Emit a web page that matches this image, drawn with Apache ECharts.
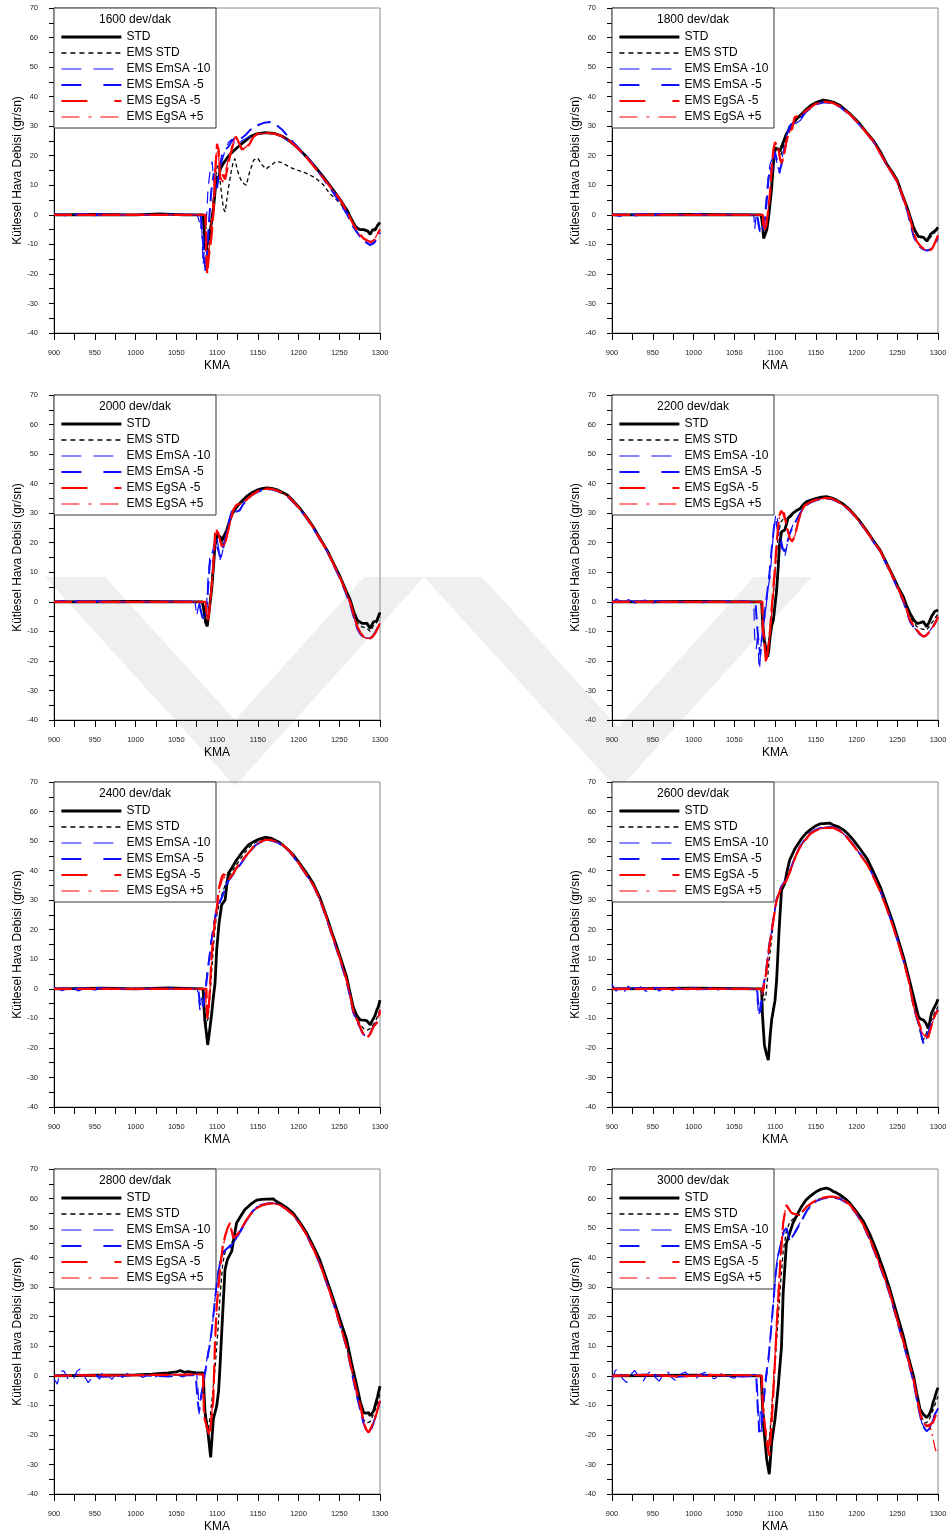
<!DOCTYPE html>
<html>
<head>
<meta charset="utf-8">
<script src="https://cdn.jsdelivr.net/npm/echarts@6/dist/echarts.min.js"></script>
<style>
html,body{margin:0;padding:0;background:#fff;}
#chart{width:950px;height:1539px;}
</style>
</head>
<body>
<div id="chart"></div>
<script>
// ---------- labels ----------
const seriesNames = ['STD', 'EMS STD', 'EMS EmSA -10', 'EMS EmSA -5', 'EMS EgSA -5', 'EMS EgSA +5'];
const panelTitles = ['1600 dev/dak', '1800 dev/dak', '2000 dev/dak', '2200 dev/dak', '2400 dev/dak', '2600 dev/dak', '2800 dev/dak', '3000 dev/dak'];
const xAxisName = 'KMA';
const yAxisName = 'Kütlesel Hava Debisi (gr/sn)';
const xRange = [900, 1300, 50];
const yRange = [-40, 70, 10];

// ---------- 1600 dev/dak ----------
const STD_1600 = [[900,0],[950,0.1],[1000,0],[1030,0.3],[1060,0],[1083,0],[1085,-8],[1086,-12],[1088,-10],[1090,-8],[1093,-3],[1096,3],[1098,9],[1100,13],[1102,12],[1104,15.5],[1108,17.5],[1112,19],[1116,20.5],[1120,21.5],[1125,22.8],[1130,24],[1136,25.3],[1140,26.3],[1145,27],[1150,27.5],[1160,27.8],[1170,27.6],[1180,26.6],[1190,24.8],[1200,22.4],[1210,19.6],[1220,16.4],[1230,13],[1240,9.4],[1250,5.6],[1260,1.4],[1265,-1.5],[1270,-4],[1275,-5],[1280,-5],[1285,-5.5],[1288,-6.6],[1291,-5],[1294,-5.2],[1297,-3.6],[1300,-2.6]];
const EMSSTD_1600 = [[900,0],[1085,0],[1087,-6],[1089,-14],[1091,-10],[1094,0],[1097,10],[1100,16],[1102,17],[1104,11],[1106,6],[1108,2],[1110,1],[1112,0.5],[1114,9],[1117,14],[1120,18],[1122,19],[1125,15],[1129,12],[1133,10.5],[1136,10],[1140,14.5],[1145,18.5],[1150,19.2],[1155,17],[1160,15.5],[1165,16.5],[1172,18],[1178,17.8],[1185,16.8],[1192,15.8],[1200,15],[1210,14],[1220,12.6],[1230,10.3],[1238,7.3],[1245,5.5],[1251,3.9],[1258,1.5],[1263,-1],[1268,-3],[1272,-4.5],[1280,-5],[1285,-5.5],[1288,-6.5],[1292,-5],[1296,-4],[1300,-2.8]];
const EmSA10_1600 = [[900,0.3],[915,-0.4],[930,0.3],[950,-0.3],[970,0.2],[990,-0.2],[1010,0.2],[1030,-0.1],[1050,0.2],[1076,0],[1078,-2],[1080,-5],[1081,-1],[1082,-10],[1083,-17],[1085,-10],[1087,-2],[1089,9],[1092,16],[1094,18],[1096,12],[1098,8],[1100,10],[1103,13],[1106,18],[1110,22],[1114,24.5],[1118,25.5],[1122,24],[1126,23.5],[1130,25],[1140,26.5],[1150,27.4],[1160,27.6],[1170,27.4],[1180,26.4],[1190,24.6],[1200,22.2],[1210,19.5],[1220,16.2],[1230,12.8],[1240,9.2],[1250,5.2],[1260,0.6],[1265,-2.5],[1270,-5],[1275,-7],[1280,-8.5],[1285,-9.5],[1288,-10],[1292,-9.4],[1296,-7.8],[1300,-6]];
const EmSA5_1600 = [[900,0],[950,0.2],[1000,-0.1],[1050,0.1],[1080,0],[1082,-6],[1084,-14],[1086,-19],[1088,-12],[1090,-3],[1093,8],[1096,14],[1100,9],[1103,15],[1106,20],[1110,22],[1114,23],[1118,25],[1122,26],[1128,25.5],[1135,27],[1140,28.5],[1145,29.7],[1150,30.3],[1158,31.2],[1165,31.4],[1173,30.4],[1180,28.8],[1190,25.6],[1200,22.6],[1210,19.8],[1220,16.4],[1226,14],[1230,12.4],[1240,8.6],[1250,4.4],[1260,0],[1267,-4],[1275,-7.2],[1280,-8.8],[1288,-10.3],[1293,-9.5],[1296,-8],[1300,-6]];
const EgSAm5_1600 = [[900,0],[1086,0],[1087,-14],[1088,-20],[1090,-14],[1093,-8],[1096,2],[1098,15],[1100,24],[1102,22],[1104,12],[1106,14],[1110,12],[1113,16],[1116,20],[1120,24],[1123,26.5],[1126,25],[1130,22.5],[1135,22],[1140,24],[1145,26.5],[1150,27.5],[1160,27.7],[1170,27.5],[1180,26.6],[1190,24.8],[1200,22.3],[1210,19.4],[1220,16],[1230,12.6],[1240,9.2],[1250,5.6],[1260,1],[1265,-2],[1270,-4.5],[1275,-6.5],[1280,-8],[1285,-8.8],[1289,-9.2],[1293,-8.5],[1297,-6.5],[1300,-5]];
const EgSAp5_1600 = [[900,0],[1085,0],[1086,-6],[1087,-18],[1089,-16],[1092,-6],[1095,4],[1098,18],[1100,23],[1102,20],[1104,13],[1107,11],[1110,14],[1114,19],[1118,23],[1122,26],[1126,24.5],[1130,22],[1136,23],[1142,25.5],[1150,27.4],[1160,27.6],[1170,27.4],[1180,26.5],[1190,24.7],[1200,22.2],[1210,19.3],[1220,15.9],[1230,12.5],[1240,9],[1250,5.4],[1260,0.8],[1265,-2.2],[1270,-4.8],[1275,-6.8],[1280,-8.2],[1285,-9],[1289,-9.3],[1293,-8.4],[1297,-6.4],[1300,-5]];

// ---------- 1800 dev/dak ----------
const STD_1800 = [[900,0],[1000,0.1],[1083,0],[1085,-4],[1086,-8],[1088,-8.3],[1090,-5],[1092,-1],[1094,4],[1096,9.5],[1098,17],[1100,22],[1103,22.5],[1106,21.5],[1110,24.5],[1114,27.4],[1118,29.3],[1122,30.8],[1126,32.3],[1131,33.6],[1139,35.9],[1145,37.2],[1151,38.1],[1159,38.8],[1165,38.6],[1172,38.1],[1180,37],[1192,34.2],[1204,30.8],[1212,28],[1221,25],[1230,21],[1237,17.2],[1244,14.4],[1250,11.6],[1256,7],[1262,2.6],[1266,-0.8],[1270,-4.2],[1273,-6],[1276,-7.3],[1282,-7.6],[1284,-7.3],[1286.5,-8.9],[1289,-7.6],[1291,-6.5],[1294,-5.9],[1296,-5.6],[1298,-5],[1300,-4.2]];
const EMSSTD_1800 = [[900,0],[1085,0],[1087,-4],[1089,-6],[1091,-3],[1093,4],[1095,9],[1097,15],[1099,21],[1101,23],[1104,22],[1107,20],[1110,23],[1114,27],[1118,29.5],[1122,31],[1126,32.5],[1131,33.8],[1139,35.6],[1150,37.8],[1160,38.5],[1170,38.1],[1180,36.9],[1192,34.1],[1204,30.7],[1221,24.9],[1237,17.1],[1250,11.4],[1262,2.4],[1266,-1],[1270,-4.5],[1276,-7.5],[1282,-8],[1287,-9],[1291,-7.5],[1296,-6],[1300,-4.5]];
const EmSA10_1800 = [[900,0],[910,-0.5],[920,0.3],[930,-0.4],[940,0.4],[950,-0.3],[960,0.3],[970,-0.3],[980,0.2],[990,-0.2],[1000,0.3],[1010,0.5],[1020,-0.2],[1030,0.2],[1040,-0.2],[1050,0.2],[1060,0],[1074,0],[1075,-5],[1077,0],[1081,-5.5],[1084,-6.5],[1086,-2],[1088,2],[1090,8],[1092,13.9],[1094,17.2],[1096,17],[1098,20],[1100,21.8],[1102,18],[1104,15],[1106,14],[1108,18.4],[1112,24],[1115,28],[1118,30.8],[1122,30.5],[1126,31],[1131,31.9],[1139,35.2],[1150,37.5],[1160,38.2],[1170,37.9],[1180,36.6],[1192,33.9],[1204,30.5],[1221,24.8],[1237,17],[1250,11.2],[1262,1.8],[1266,-2.5],[1270,-7],[1274,-9.5],[1278,-10.8],[1282,-11.6],[1286,-12],[1290,-11.8],[1294,-11],[1297,-9.5],[1300,-8]];
const EmSA5_1800 = [[900,0],[950,0.2],[1000,-0.1],[1050,0.1],[1078,0],[1080,-3],[1082,-6],[1085,-6],[1087,-3],[1090,5],[1092,12],[1094,16],[1096,14],[1098,18],[1100,21],[1102,19],[1104,16],[1106,15],[1108,17],[1112,22],[1116,27.5],[1119,30.5],[1123,31],[1127,31.5],[1131,32.5],[1139,35.1],[1150,37.4],[1160,38.1],[1170,37.8],[1180,36.5],[1192,33.8],[1204,30.4],[1221,24.7],[1237,16.9],[1250,11.1],[1262,1.6],[1266,-2.8],[1270,-7.2],[1274,-9.6],[1278,-10.9],[1282,-11.7],[1286,-12.1],[1290,-11.8],[1294,-11],[1297,-9.4],[1300,-7.8]];
const EgSAm5_1800 = [[900,0],[1085,0],[1086,-2],[1087,-5.3],[1089,-4],[1092,2],[1094,8],[1096,16],[1098,22],[1100,24.6],[1102,24],[1104,22.8],[1106,19],[1108,17.5],[1111,20],[1114,25],[1118,28.5],[1121,29],[1124,33],[1128,33.5],[1132,34],[1139,35.4],[1150,37.6],[1160,38.3],[1170,38],[1180,36.7],[1192,34],[1204,30.6],[1221,24.8],[1237,17],[1250,11.3],[1262,2.2],[1266,-1.5],[1270,-6],[1274,-9],[1278,-10.4],[1282,-11.4],[1286,-12.1],[1290,-12],[1293,-11.4],[1296,-9.6],[1300,-7]];
const EgSAp5_1800 = [[900,0],[1084,0],[1085,-3],[1087,-5],[1090,-2],[1093,5],[1095,12],[1097,19],[1099,23.5],[1101,24.2],[1103,23],[1105,20.5],[1107,18],[1110,19],[1113,23],[1116,27],[1119,28.5],[1122,31],[1125,33],[1129,33.2],[1132,33.8],[1139,35.3],[1150,37.5],[1160,38.2],[1170,37.9],[1180,36.6],[1192,33.9],[1204,30.5],[1221,24.7],[1237,16.9],[1250,11.2],[1262,2],[1266,-1.8],[1270,-6.2],[1274,-9.2],[1278,-10.6],[1282,-11.5],[1286,-12.1],[1290,-11.9],[1293,-11.2],[1296,-9.4],[1300,-6.8]];

// ---------- 2000 dev/dak ----------
const STD_2000 = [[900,0],[1000,0.1],[1082,0],[1084,-3],[1086,-7],[1088,-8.3],[1090,-4],[1093.5,4.3],[1096,13],[1097.5,19],[1100,22.4],[1102,22.5],[1104,22],[1106,20.5],[1108,22],[1112,24.3],[1115,27],[1118,29.4],[1122,31.3],[1126,32.8],[1131,34.2],[1136,35.6],[1142,36.8],[1149,37.8],[1155,38.3],[1161,38.6],[1167,38.4],[1173,38],[1180,37.1],[1186,36.2],[1194,34],[1202,31.6],[1210,28.6],[1218,25.4],[1226,21.6],[1235,17.5],[1243,13],[1251,8.5],[1258,4],[1263.5,0.6],[1268,-3.5],[1272,-6.2],[1278,-7.3],[1284,-7.3],[1288,-9],[1290,-7.8],[1292,-6.8],[1294,-7.2],[1296,-6.5],[1298,-5],[1300,-3.6]];
const EMSSTD_2000 = [[900,0],[1084,0],[1086,-4],[1088,-7],[1090,-5],[1092,2],[1094,9],[1096,16],[1098,21],[1100,23],[1103,21],[1106,19],[1109,21],[1113,25],[1117,29],[1121,31],[1126,32.5],[1131,33.8],[1136,35.2],[1142,36.4],[1149,37.5],[1155,38.1],[1161,38.5],[1167,38.3],[1173,37.9],[1180,37],[1186,36.1],[1194,33.9],[1202,31.5],[1210,28.5],[1218,25.3],[1226,21.5],[1235,17.4],[1243,12.9],[1251,8.3],[1258,3.8],[1263.5,0.2],[1268,-4],[1272,-7.2],[1278,-8.5],[1284,-9],[1288,-10],[1292,-8],[1296,-7],[1300,-5]];
const EmSA10_2000 = [[900,0],[910,0.4],[920,-0.4],[930,0.3],[940,-0.3],[950,0.3],[960,-0.3],[970,0.2],[980,-0.3],[990,0.2],[1000,-0.2],[1010,0.3],[1020,-0.2],[1030,0.2],[1040,-0.2],[1050,0.2],[1060,0.2],[1073,0],[1074,-2],[1075,-4.9],[1077,-2],[1079,0],[1082,-5.5],[1085,-5.5],[1087,-2],[1089,8],[1091.6,16.4],[1094,16],[1096,17],[1099.6,22.4],[1102,18],[1103.7,14.2],[1106,16],[1108,18.7],[1112,24],[1115,28],[1118,31],[1122,31],[1126,30.5],[1131,32.5],[1136,34.5],[1142,36],[1149,37.2],[1155,37.9],[1161,38.2],[1167,38.1],[1173,37.7],[1180,36.8],[1186,35.9],[1194,33.7],[1202,31.3],[1210,28.3],[1218,25.1],[1226,21.3],[1235,17.2],[1243,12.6],[1251,7.9],[1258,3.2],[1263.5,-0.8],[1268,-5.2],[1272,-8.8],[1276,-10.8],[1280,-11.9],[1284,-12.3],[1288,-12.3],[1291,-11.6],[1294,-10.5],[1297,-9],[1300,-7.5]];
const EmSA5_2000 = [[900,0],[950,0.2],[1000,-0.1],[1050,0.1],[1078,0],[1080,-3],[1083,-6],[1086,-5],[1088,0],[1090,9],[1092,15],[1095,17],[1098,21],[1100,21.5],[1102,17],[1104,15],[1107,17.5],[1110,21],[1114,25.5],[1117,29.5],[1120,31],[1124,30.5],[1128,31],[1132,33],[1136,34.3],[1142,35.9],[1149,37.1],[1155,37.8],[1161,38.1],[1167,38],[1173,37.6],[1180,36.7],[1186,35.8],[1194,33.6],[1202,31.2],[1210,28.2],[1218,25],[1226,21.2],[1235,17.1],[1243,12.5],[1251,7.8],[1258,3],[1263.5,-1],[1268,-5.4],[1272,-9],[1276,-11],[1280,-12],[1284,-12.4],[1288,-12.3],[1291,-11.6],[1294,-10.4],[1297,-8.8],[1300,-7.4]];
const EgSAm5_2000 = [[900,0],[1086,0],[1087,-3],[1089,-6.2],[1091,-2],[1093,4],[1095,10],[1097,20],[1098,24.9],[1100,24.5],[1102,23],[1104,20.5],[1106,18.7],[1108,18.5],[1110,19.8],[1114,24.5],[1117,28],[1120,31.1],[1124,32.8],[1128,33.2],[1132,33.8],[1136,34.5],[1142,36],[1149,37.3],[1155,38],[1161,38.3],[1167,38.2],[1173,37.8],[1180,36.9],[1186,36],[1194,33.8],[1202,31.4],[1210,28.4],[1218,25.2],[1226,21.4],[1235,17.3],[1243,12.8],[1251,8.2],[1258,3.6],[1263.5,-0.2],[1268,-4.5],[1272,-8.3],[1276,-10.5],[1280,-11.8],[1284,-12.3],[1288,-12.4],[1291,-11.8],[1294,-10.7],[1297,-9],[1300,-7.3]];
const EgSAp5_2000 = [[900,0],[1085,0],[1086,-2],[1088,-5.5],[1090,-4],[1092,1],[1094,7],[1096,15],[1098,22],[1100,24],[1102,23.5],[1104,21],[1106,19.5],[1109,19],[1112,22],[1116,26.5],[1119,30],[1122,32],[1126,33],[1130,33.3],[1136,34.3],[1142,35.9],[1149,37.2],[1155,37.9],[1161,38.2],[1167,38.1],[1173,37.7],[1180,36.8],[1186,35.9],[1194,33.7],[1202,31.3],[1210,28.3],[1218,25.1],[1226,21.3],[1235,17.2],[1243,12.7],[1251,8],[1258,3.4],[1263.5,-0.4],[1268,-4.8],[1272,-8.5],[1276,-10.6],[1280,-11.9],[1284,-12.4],[1288,-12.4],[1291,-11.7],[1294,-10.6],[1297,-8.9],[1300,-7.2]];

// ---------- 2200 dev/dak ----------
const STD_2200 = [[900,0],[1000,0.1],[1083.6,0],[1085,-8],[1087,-13],[1089,-16.3],[1091,-18.6],[1092.5,-16],[1094,-11.8],[1096,-8],[1098,-6.2],[1100,-6],[1102,4],[1104,12],[1105.3,18.7],[1108,23.7],[1112,24.3],[1116,28.3],[1122,30],[1126,30.8],[1131,31.6],[1135,33],[1139,33.9],[1145,34.5],[1151,35],[1157,35.4],[1163,35.6],[1169,35.2],[1175,34.5],[1184,33],[1192,31.1],[1202,28],[1212,24.3],[1220,21],[1229,17.5],[1237,13],[1245,8.5],[1251,5],[1257.5,1.7],[1261,-1],[1265.7,-3.9],[1270,-6],[1274,-7.3],[1278,-7.1],[1282,-6.7],[1286,-8.4],[1289,-7],[1292,-5],[1294,-5.5],[1296,-3.3],[1300,-2.8]];
const EMSSTD_2200 = [[900,0],[1084,0],[1085,-8],[1087,-14],[1089,-19],[1091,-17],[1093,-12],[1095,-6],[1097,0],[1099,6],[1101,14],[1103,20],[1105,24],[1107,27],[1110,28],[1113,27],[1116,27.5],[1120,29],[1125,30.5],[1131,31.8],[1139,33.7],[1145,34.3],[1151,34.8],[1157,35.2],[1163,35.4],[1169,35.1],[1175,34.4],[1184,32.9],[1192,31],[1202,27.9],[1212,24.2],[1220,20.9],[1229,17.4],[1237,12.9],[1245,8.3],[1251,4.8],[1257.5,1.2],[1262,-2],[1266,-5],[1270,-7],[1274,-8.4],[1278,-9],[1282,-9.3],[1286,-9.5],[1290,-8],[1294,-6.5],[1300,-4]];
const EmSA10_2200 = [[900,-1],[905,1],[910,0.3],[915,-0.8],[920,0.8],[930,-0.6],[940,0.6],[950,-0.4],[960,0.5],[970,-0.3],[980,0.4],[990,-0.3],[1000,0.3],[1010,-0.3],[1020,0.3],[1030,-0.2],[1040,0.3],[1050,-0.2],[1060,0.3],[1070,0],[1074,0],[1075,-12],[1077,-16],[1079,-10],[1080,-20],[1081,-23],[1083,-14],[1086,-8],[1089,-2],[1091,4],[1094,8.5],[1096,16],[1098,23],[1101,30],[1104,26.6],[1107,22],[1110,18],[1112,15.3],[1114,18],[1116,21],[1119,24],[1122,26],[1126,28],[1131,30.2],[1136,32.5],[1140,33.1],[1145,33.9],[1151,34.5],[1157,34.9],[1163,35.1],[1169,34.9],[1175,34.2],[1184,32.7],[1192,30.8],[1202,27.7],[1212,24],[1220,20.7],[1229,17.2],[1237,12.6],[1245,8],[1251,4.3],[1257.5,0.2],[1262,-3.5],[1265.7,-6.6],[1270,-8.4],[1274,-9.8],[1278,-11],[1282,-11.6],[1285,-11.3],[1288,-10.5],[1291,-9.4],[1294,-8.2],[1297,-6.8],[1300,-5]];
const EmSA5_2200 = [[900,0],[950,0.2],[1000,-0.1],[1050,0.1],[1076,0],[1078,-8],[1080,-14],[1082,-18],[1084,-12],[1087,-5],[1090,2],[1093,9],[1096,18],[1099,26],[1101,28],[1103,25],[1106,21],[1109,18],[1112,17],[1115,20],[1118,23],[1122,25.5],[1126,27.5],[1131,30],[1136,32.3],[1140,33],[1145,33.8],[1151,34.4],[1157,34.8],[1163,35],[1169,34.8],[1175,34.1],[1184,32.6],[1192,30.7],[1202,27.6],[1212,23.9],[1220,20.6],[1229,17.1],[1237,12.5],[1245,7.9],[1251,4.2],[1257.5,0.1],[1262,-3.6],[1265.7,-6.7],[1270,-8.5],[1274,-9.9],[1278,-11.1],[1282,-11.7],[1285,-11.4],[1288,-10.6],[1291,-9.5],[1294,-8.3],[1297,-6.9],[1300,-5.1]];
const EgSAm5_2200 = [[900,0],[1084.5,0],[1085,-9.5],[1087,-14],[1089,-20.8],[1091,-17],[1094,-9.5],[1096,-2],[1098,4.5],[1100,12],[1102,19.8],[1105,28.8],[1107,30.5],[1109.4,31.1],[1111,30],[1114,26],[1118,21.5],[1121,20.5],[1124,22],[1128,26.6],[1132.7,31],[1136,32.5],[1140,33.2],[1145,34],[1151,34.6],[1157,35],[1163,35.2],[1169,35],[1175,34.3],[1184,32.8],[1192,30.9],[1202,27.8],[1212,24.1],[1220,20.8],[1229,17.3],[1237,12.8],[1245,8.2],[1251,4.6],[1257.5,0.6],[1262,-3],[1265.7,-6.2],[1270,-8],[1274,-9.5],[1278,-10.8],[1282,-11.8],[1285,-11.5],[1288,-10.7],[1291,-9.6],[1294,-8.4],[1297,-7],[1300,-5]];
const EgSAp5_2200 = [[900,0],[1084,0],[1085,-7],[1087,-13],[1089,-19],[1091,-18],[1094,-11],[1096,-4],[1098,3],[1100,10],[1102,18],[1104,26],[1106,29.5],[1108,31],[1110,30.5],[1113,27],[1117,22.5],[1120,20],[1123,21],[1127,25],[1131,29.5],[1136,32.3],[1140,33.1],[1145,33.9],[1151,34.5],[1157,34.9],[1163,35.1],[1169,34.9],[1175,34.2],[1184,32.7],[1192,30.8],[1202,27.7],[1212,24],[1220,20.7],[1229,17.2],[1237,12.7],[1245,8.1],[1251,4.5],[1257.5,0.5],[1262,-3.2],[1265.7,-6.4],[1270,-8.2],[1274,-9.7],[1278,-10.9],[1282,-11.7],[1285,-11.4],[1288,-10.6],[1291,-9.5],[1294,-8.3],[1297,-6.9],[1300,-5]];

// ---------- 2400 dev/dak ----------
const STD_2400 = [[900,0],[960,0.2],[1000,0],[1040,0.3],[1083,0],[1084,-6],[1085,-10.5],[1087,-15],[1088.6,-19],[1091,-14],[1093.5,-8.3],[1095.5,-3],[1097.6,1.9],[1099.6,13.1],[1102.5,22.2],[1105.7,28.4],[1110,30.1],[1112,35],[1114,39.1],[1118,40.8],[1124,43.6],[1130,45.9],[1138.6,48.7],[1145,49.8],[1151,50.6],[1159,51.3],[1167,50.9],[1175,49.8],[1181,48.6],[1187.6,47],[1194,45.2],[1200,43],[1209,39.5],[1218,35.7],[1226,31],[1234.6,24.4],[1241,19],[1247,14.3],[1253,9.3],[1259,4.1],[1263,-1],[1267,-6],[1271,-8.8],[1275.6,-10.5],[1280,-10.6],[1283.7,-10.8],[1286,-11.5],[1288,-12.2],[1290,-11],[1292,-10],[1294,-9],[1296,-7.2],[1298,-6],[1300,-3.8]];
const EMSSTD_2400 = [[900,0],[1084,0],[1085,-8],[1087,-12],[1089,-10],[1091,-4],[1093,4],[1095,12],[1097,19],[1099,24],[1102,28],[1105,31],[1108,33.5],[1111,36],[1114,38],[1118,39.5],[1124,42],[1130,44.5],[1138,47.5],[1145,49.2],[1151,50.1],[1159,50.7],[1167,50.5],[1175,49.6],[1183.6,48],[1190,46.2],[1200,42.7],[1209,39.1],[1218,35.3],[1226,30.6],[1234.6,24.1],[1241,18.6],[1247,13.8],[1253,8.7],[1259,3.3],[1263,-1.2],[1267,-6.5],[1271,-9.5],[1275.6,-12],[1280,-13.5],[1284,-14],[1288,-13.5],[1292,-12],[1296,-10],[1300,-7]];
const EmSA10_2400 = [[900,0.5],[910,-0.6],[920,0.5],[930,-0.7],[940,0.4],[950,-0.5],[960,0.4],[970,-0.3],[980,0.3],[990,-0.4],[1000,0.3],[1010,-0.3],[1020,0.3],[1030,-0.2],[1040,0.3],[1050,-0.2],[1060,0.2],[1070,0],[1076,0],[1079,-7.2],[1081,-3],[1083,-7],[1085,-2],[1088,6],[1090,10],[1093.6,17.7],[1096,22],[1099.6,27.8],[1104,30],[1107,32],[1110,34.6],[1114,37],[1118,38.5],[1122,40],[1126,41.3],[1130,42.8],[1134.5,44.7],[1140,46.3],[1146.7,48.6],[1152,49.5],[1159,50.3],[1167,50.3],[1175,49.5],[1183.6,48],[1190,46.2],[1200,42.5],[1209,38.9],[1218,35.1],[1226,30.3],[1234.6,23.7],[1241,18.2],[1247,13.2],[1253,8],[1259,2.5],[1263,-2.2],[1267,-7.8],[1271,-10.5],[1275.6,-13],[1278,-14.6],[1281.6,-16],[1285.7,-15.8],[1289,-14.5],[1292,-12.6],[1296,-11.3],[1300,-7.5]];
const EmSA5_2400 = [[900,0],[950,0.2],[1000,-0.1],[1050,0.1],[1077,0],[1079,-5],[1082,-7],[1085,-3],[1087,2],[1090,9],[1093,16],[1096,21],[1099,26],[1103,29],[1107,31.5],[1110,33.8],[1114,36.5],[1118,38],[1122,39.6],[1126,41],[1130,42.6],[1134.5,44.5],[1140,46.2],[1146.7,48.5],[1152,49.4],[1159,50.2],[1167,50.2],[1175,49.4],[1183.6,47.9],[1190,46.1],[1200,42.4],[1209,38.8],[1218,35],[1226,30.2],[1234.6,23.6],[1241,18.1],[1247,13.1],[1253,7.9],[1259,2.4],[1263,-2.3],[1267,-7.9],[1271,-10.6],[1275.6,-13.1],[1278,-14.7],[1281.6,-16.1],[1285.7,-15.9],[1289,-14.6],[1292,-12.7],[1296,-11.4],[1300,-7.6]];
const EgSAm5_2400 = [[900,0],[1087,0],[1088,-10],[1090,-6],[1091.6,2],[1093.6,12],[1095.5,18],[1097.6,23.3],[1100,28],[1102,33.4],[1104,36],[1106,38],[1108,38.8],[1110,39],[1112,38],[1114,36.8],[1117,38],[1120,39],[1124,41],[1128,42.5],[1134.5,44.7],[1140,46.5],[1146.7,48.7],[1152,49.6],[1159,50.4],[1167,50.4],[1175,49.6],[1183.6,48.1],[1190,46.3],[1200,42.6],[1209,39],[1218,35.2],[1226,30.5],[1234.6,24],[1241,18.5],[1247,13.6],[1253,8.5],[1259,3],[1263,-1.5],[1267,-7.2],[1271,-10],[1275.6,-12.8],[1278,-14.5],[1281.6,-16.2],[1285.7,-16.2],[1289,-14.8],[1292,-12.8],[1296,-11.5],[1298,-10.5],[1300,-7.2]];
const EgSAp5_2400 = [[900,0],[1086,0],[1087,-8],[1089,-9],[1091,-2],[1093,8],[1095,15],[1097,21],[1099.6,26],[1102,31],[1104,34.5],[1106,36.5],[1108,37.8],[1110,38.3],[1113,37],[1116,37.5],[1120,38.8],[1124,40.8],[1128,42.4],[1134.5,44.6],[1140,46.4],[1146.7,48.6],[1152,49.5],[1159,50.3],[1167,50.3],[1175,49.5],[1183.6,48],[1190,46.2],[1200,42.5],[1209,38.9],[1218,35.1],[1226,30.4],[1234.6,23.9],[1241,18.4],[1247,13.5],[1253,8.4],[1259,2.8],[1263,-1.7],[1267,-7.4],[1271,-10.2],[1275.6,-13],[1278,-14.6],[1281.6,-16.1],[1285.7,-16],[1289,-14.6],[1292,-12.7],[1296,-11.4],[1300,-7.4]];

// ---------- 2600 dev/dak ----------
const STD_2600 = [[900,0],[1000,0.2],[1083.6,0],[1084.5,-8.3],[1087,-19],[1089.5,-22],[1091.8,-24.1],[1094,-16],[1095.9,-10.5],[1098,-7.2],[1100,-4],[1102,3],[1105,19.9],[1108,33.4],[1112,35.7],[1115,40],[1118,43.6],[1124.6,47.5],[1132.7,50.9],[1138,52.6],[1143,53.8],[1149,55],[1155,55.8],[1163,56],[1167,56.1],[1171.6,55.4],[1178,54.8],[1184,53.8],[1190,52.3],[1196,50.4],[1204,47.5],[1212.6,44.2],[1220,40],[1229,34.6],[1237,28.5],[1245,22.2],[1251,16.8],[1257.5,10.9],[1264,4],[1270,-2.7],[1273,-6],[1276,-9.4],[1279,-10.3],[1282,-10.5],[1285,-11.5],[1288,-13.4],[1290,-11],[1292,-8.3],[1295,-6.5],[1298,-4.9],[1300,-3.5]];
const EMSSTD_2600 = [[900,0],[1085,0],[1087,-4],[1089,-2],[1091,4],[1093,10],[1095,15],[1097,20],[1099,25],[1101,29],[1104,32],[1107,34],[1110,35.2],[1114,36.5],[1118,39.2],[1122,42.3],[1126,45.3],[1130.7,48],[1137,50.4],[1143,52.5],[1149,53.5],[1155,54.2],[1163,54.6],[1171.6,54.6],[1180,53.4],[1188,51.4],[1196,48.7],[1204,45.7],[1212.6,42.4],[1220,38.5],[1229,33.1],[1237,27.3],[1245,21.1],[1251,15.7],[1257.5,9.7],[1264,2.8],[1270,-6],[1274,-10],[1278,-14],[1281,-18],[1284,-16],[1288,-13.5],[1292,-10.5],[1296,-8],[1300,-6]];
const EmSA10_2600 = [[900,1.5],[905,-0.8],[910,0.6],[915,-1],[920,0.9],[928,-1.1],[935,0.7],[942,-0.9],[950,0.8],[958,-0.7],[966,0.6],[974,-0.6],[982,0.5],[990,-0.5],[1000,0.5],[1010,-0.4],[1020,0.4],[1030,-0.4],[1040,0.3],[1050,-0.3],[1060,0.3],[1070,0],[1077,0],[1080,-9.4],[1082,-5],[1084,-2],[1086,2],[1089,5.2],[1091,10],[1093,14.3],[1095.5,19],[1098,23.3],[1100,27],[1102,30.1],[1105,32.5],[1108,34.6],[1111,35.8],[1114,36.8],[1118,39.5],[1122,42.5],[1126,45.5],[1130.7,48.1],[1137,50.5],[1143,52.6],[1149,53.6],[1155,54.3],[1163,54.7],[1171.6,54.7],[1180,53.5],[1188,51.5],[1196,48.8],[1204,45.8],[1212.6,42.5],[1220,38.6],[1229,33.2],[1237,27.4],[1245,21.2],[1251,15.8],[1257.5,9.8],[1264,3],[1270,-6],[1273,-9],[1276,-11.7],[1279,-15],[1282,-18.5],[1285,-17.5],[1288,-15],[1291,-12.5],[1294,-10.5],[1297,-8.5],[1300,-7.2]];
const EmSA5_2600 = [[900,0],[950,0.3],[1000,-0.2],[1050,0.1],[1078,0],[1080,-7],[1082,-8],[1084,-3],[1087,3],[1089,6],[1091,10.5],[1093,15],[1096,20],[1098,23.5],[1100,27.2],[1102,30.3],[1105,32.7],[1108,34.8],[1111,36],[1114,37],[1118,39.7],[1122,42.7],[1126,45.6],[1130.7,48.2],[1137,50.6],[1143,52.7],[1149,53.7],[1155,54.4],[1163,54.8],[1171.6,54.7],[1180,53.5],[1188,51.5],[1196,48.8],[1204,45.8],[1212.6,42.5],[1220,38.6],[1229,33.2],[1237,27.4],[1245,21.2],[1251,15.8],[1257.5,9.8],[1264,3],[1270,-6],[1273,-9],[1276,-11.7],[1279,-15],[1282,-18.4],[1285,-17.3],[1288,-14.8],[1291,-12.4],[1294,-10.4],[1297,-8.4],[1300,-7]];
const EgSAm5_2600 = [[900,0],[1084,0],[1085,-1],[1087,2],[1089,5],[1091,9.8],[1093,14.1],[1095.5,18.8],[1098,23.1],[1100,26.8],[1102,29.9],[1105,32.3],[1108,34.4],[1111,35.6],[1114,36.6],[1118,39.3],[1122,42.3],[1126,45.3],[1130.7,47.9],[1137,50.3],[1143,52.4],[1149,53.4],[1155,54.1],[1163,54.5],[1171.6,54.5],[1180,53.3],[1188,51.3],[1196,48.6],[1204,45.6],[1212.6,42.3],[1220,38.4],[1229,33],[1237,27.2],[1245,21],[1251,15.6],[1257.5,9.6],[1264,2.8],[1270,-5.5],[1273,-8.5],[1276,-11],[1279,-13.5],[1282,-15],[1285,-16],[1288,-16.5],[1291,-13.5],[1294,-10.5],[1297,-8.5],[1300,-7.2]];
const EgSAp5_2600 = [[900,0],[1083,0],[1084,-2],[1086,-0.5],[1088,3.5],[1090,8],[1092,12.5],[1094.5,17],[1097,21.5],[1099,25.5],[1101,28.8],[1104,31.8],[1107,34],[1110,35.4],[1114,36.8],[1118,39.4],[1122,42.4],[1126,45.4],[1130.7,48],[1137,50.4],[1143,52.5],[1149,53.5],[1155,54.2],[1163,54.6],[1171.6,54.6],[1180,53.4],[1188,51.4],[1196,48.7],[1204,45.7],[1212.6,42.4],[1220,38.5],[1229,33.1],[1237,27.3],[1245,21.1],[1251,15.7],[1257.5,9.7],[1264,2.9],[1270,-5.8],[1273,-8.8],[1276,-11.3],[1279,-14],[1282,-15.5],[1285,-16.3],[1288,-16.8],[1291,-13.8],[1294,-10.8],[1297,-8.6],[1300,-7.3]];

// ---------- 2800 dev/dak ----------
const STD_2800 = [[900,0],[950,0.2],[1000,0.3],[1020,0.6],[1040,1],[1050,1.3],[1055,1.8],[1060,1.2],[1065,1.4],[1070,1.2],[1075,1],[1083,1],[1085.3,-12.5],[1089,-19.3],[1092.2,-27.6],[1095.5,-14.7],[1099.6,-10.2],[1102,-5],[1103.7,3.3],[1107,21.3],[1109.8,35.9],[1112.7,39.3],[1118,42.1],[1121,47],[1124,51.7],[1129,54],[1134,56.2],[1141,58],[1148.7,59.5],[1155,59.7],[1161,59.8],[1169,59.9],[1173,59],[1177,58.4],[1185,57],[1193.6,55],[1202,51.8],[1210,48.3],[1218,44],[1226,39.3],[1234,33],[1243,25.8],[1251,19],[1259,12.3],[1265,4.5],[1271.6,-3.5],[1276,-9],[1280,-12.5],[1283,-12.6],[1286,-12.5],[1288,-13.5],[1290,-14.1],[1292,-12],[1294,-10.2],[1297,-7],[1300,-3.5]];
const EMSSTD_2800 = [[900,0],[1000,0.2],[1083,0.5],[1085,-10],[1089,-19],[1092,-13],[1095,-5],[1098,4],[1101,15],[1104,28],[1107,38],[1110,42],[1114,43.5],[1118,45],[1122,47],[1128,49],[1136,52.5],[1142,55],[1148.7,56.8],[1155,57.8],[1162,58.3],[1169,58.5],[1177,58],[1185,56.5],[1193.6,54.6],[1202,51.4],[1210,47.8],[1218,43.3],[1226,38.3],[1234,32.1],[1243,24.8],[1251,17.5],[1259,10.1],[1263,5.1],[1267,0.1],[1271,-5],[1276,-10.5],[1280,-15],[1284,-16],[1288,-15.5],[1292,-13],[1296,-10],[1300,-6]];
const EmSA10_2800 = [[900,-1],[904,-2.8],[908,1.5],[912,1.7],[918,-1.5],[923,-1.7],[928,1.5],[932,2.3],[937,0],[942,-2.3],[947,-0.5],[950,0.6],[956,-1.1],[960,1.5],[966,0.5],[971,-1.2],[978,1.1],[984,-0.6],[990,0.8],[996,-0.5],[1003,0.5],[1009,-0.6],[1016,0.4],[1024,-0.4],[1032,0.5],[1040,-0.3],[1050,0.5],[1058,-0.4],[1066,0.7],[1072,0.3],[1075,1],[1077,-6],[1078,-13],[1080,-7],[1083,-2],[1086,3],[1089,8],[1093.5,15],[1097.5,25.8],[1101.6,35.9],[1104,39],[1107.7,42.1],[1112,43.5],[1116,43.2],[1120,45],[1126,47.2],[1131,49.8],[1136,52.2],[1142,55],[1148.7,57.2],[1155,57.9],[1162,58.3],[1169,58.4],[1177,57.9],[1185,56.4],[1193.6,54.4],[1202,51.2],[1210,47.6],[1218,43],[1226,38],[1234,31.8],[1243,24.4],[1251,17.1],[1259,9.6],[1263,4.5],[1267,-0.8],[1271,-6],[1276,-11.5],[1280,-16],[1283,-18],[1287,-19],[1290,-17.5],[1293,-15],[1296,-12.5],[1300,-8.5]];
const EmSA5_2800 = [[900,0],[930,0.4],[960,-0.3],[1000,0.2],[1040,-0.2],[1070,0.3],[1074,0],[1076,-8],[1078,-12],[1080,-8],[1083,-3],[1086,2],[1089,7],[1092,12],[1095,19],[1098,27],[1101,34],[1104,38.5],[1108,42],[1112,43],[1116,44],[1120,45.5],[1126,47.6],[1131,50],[1136,52.4],[1142,55.1],[1148.7,57.2],[1155,57.9],[1162,58.3],[1169,58.4],[1177,57.9],[1185,56.4],[1193.6,54.4],[1202,51.2],[1210,47.6],[1218,43],[1226,38],[1234,31.8],[1243,24.4],[1251,17.1],[1259,9.6],[1263,4.4],[1267,-1],[1271,-6.2],[1276,-11.8],[1280,-16.2],[1283,-18.2],[1287,-19.1],[1290,-17.6],[1293,-15.1],[1296,-12.6],[1300,-8.6]];
const EgSAm5_2800 = [[900,0],[940,0.2],[980,0.1],[1020,0.3],[1060,0.4],[1083,0.5],[1084,-13.6],[1087,-17],[1091,-20.3],[1093,-15],[1095.5,-8],[1097.5,11.2],[1099.6,23.5],[1103.7,35.9],[1107,43.8],[1110,47.5],[1113,50],[1116,51.7],[1118,49],[1120,46.6],[1124,47.5],[1128,48.9],[1132,50.8],[1136,52.8],[1142,55],[1148.7,56.7],[1155,57.7],[1162,58.2],[1169,58.4],[1177,57.9],[1185,56.4],[1193.6,54.5],[1202,51.3],[1210,47.7],[1218,43.2],[1226,38.2],[1234,32],[1243,24.7],[1251,17.4],[1259,10],[1263,5],[1267,0],[1271,-5],[1276,-10.2],[1280.8,-16.4],[1283,-18],[1286,-19.2],[1288,-18.6],[1290,-17],[1293,-15],[1296,-12.5],[1300,-8]];
const EgSAp5_2800 = [[900,0],[960,0.3],[1020,0.2],[1060,0.5],[1082,0.5],[1083,-8],[1086,-15],[1089,-19],[1092,-17],[1094.5,-10],[1096.5,2],[1098.5,16],[1101,28],[1104,37],[1107,43],[1110,47],[1113,49.5],[1115,51],[1117,50],[1120,47],[1124,47.8],[1128,49.2],[1132,51],[1136,52.9],[1142,55],[1148.7,56.7],[1155,57.7],[1162,58.2],[1169,58.3],[1177,57.8],[1185,56.3],[1193.6,54.4],[1202,51.2],[1210,47.6],[1218,43.1],[1226,38.1],[1234,31.9],[1243,24.6],[1251,17.3],[1259,9.9],[1263,4.9],[1267,-0.2],[1271,-5.3],[1276,-10.6],[1280.8,-16.8],[1283,-18.4],[1286,-19.4],[1288,-18.9],[1290,-17.2],[1293,-15.2],[1296,-12.8],[1300,-8.3]];

// ---------- 3000 dev/dak ----------
const STD_3000 = [[900,0],[1000,0.2],[1083,0],[1085.7,-15.8],[1089.8,-28.2],[1093,-33.3],[1095.9,-22.6],[1100,-14.7],[1104,-3.5],[1108,10],[1110,28],[1114,44.9],[1118,48.3],[1122,51.7],[1128,55],[1133,57.5],[1138,59.5],[1144,61],[1151,62.4],[1157,63.2],[1163,63.5],[1167,63.2],[1171.6,62.4],[1175,62],[1179.8,61.2],[1186,60],[1192,58.4],[1200,55.6],[1208.6,52.2],[1217,47.5],[1225,42.1],[1233,36],[1241,29.2],[1249,21.5],[1257.5,13.4],[1264,6],[1270,-0.1],[1274,-6],[1278,-11.3],[1282,-13],[1286,-14.1],[1289,-13.2],[1292,-11.3],[1294,-9],[1296,-7.4],[1298,-5.5],[1300,-4]];
const EMSSTD_3000 = [[900,0],[1084,0],[1086,-12],[1089,-22],[1092,-25],[1095,-15],[1098,-3],[1101,8],[1104,20],[1107,32],[1110,42],[1114,49],[1118,52],[1124,53.5],[1130,54.5],[1138,57],[1145,58.5],[1151,59.5],[1159,60.3],[1167,60.7],[1173,60.6],[1180,60.1],[1186,59.2],[1192,57.9],[1200,55],[1208.6,51.1],[1217,46],[1225,40.4],[1233,34.5],[1241,28],[1249,20],[1257.5,11.7],[1264,5],[1270,-1.2],[1275,-8.5],[1280,-14],[1284,-16],[1288,-15.5],[1292,-13],[1296,-10],[1300,-7]];
const EmSA10_3000 = [[900,-1.5],[904,1.8],[908,2.5],[913,-1],[918,-2.3],[923,0.5],[928,1.8],[933,-0.5],[938,-2],[943,0.5],[948,1.7],[953,-0.5],[958,-1.8],[963,0.6],[968,1.5],[973,-0.5],[978,-1.6],[984,0.5],[990,1.3],[996,-0.5],[1002,-1.3],[1008,0.5],[1014,1.2],[1020,-0.4],[1026,-1],[1032,0.4],[1038,1],[1044,-0.3],[1050,-0.8],[1056,0.4],[1062,0.8],[1068,-0.3],[1074,0.5],[1078,0],[1080,-19.2],[1082,-12],[1084,-19],[1086,-10],[1089,-2],[1092,5],[1094,12],[1098,24.7],[1102,38.2],[1106,43.8],[1109,47],[1112,50.5],[1115,49],[1118,46],[1121,47],[1124.6,48.9],[1128,50.5],[1132.7,52.8],[1138.9,56],[1145,58],[1151,59.3],[1159,60.1],[1167,60.5],[1173,60.4],[1180,59.9],[1186,59],[1192,57.7],[1200,54.8],[1208.6,50.9],[1217,45.7],[1225,40],[1233,34],[1241,27.5],[1249,19.5],[1257.5,11.2],[1264,4.4],[1270,-2],[1275,-9.5],[1280,-15.8],[1283,-17.5],[1286,-18.6],[1289,-18],[1292,-16],[1296,-13],[1300,-11]];
const EmSA5_3000 = [[900,0],[940,0.4],[980,-0.3],[1020,0.3],[1060,-0.2],[1077,0],[1079,-12],[1081,-19],[1083,-17],[1086,-8],[1089,0],[1092,6],[1095,15],[1098,25],[1101,35],[1104,41],[1108,45.5],[1111,49],[1114,50],[1117,47.5],[1120,46.5],[1124.6,48.5],[1128,50.2],[1132.7,52.5],[1138.9,55.8],[1145,57.9],[1151,59.2],[1159,60],[1167,60.4],[1173,60.3],[1180,59.8],[1186,58.9],[1192,57.6],[1200,54.7],[1208.6,50.8],[1217,45.6],[1225,39.9],[1233,33.9],[1241,27.4],[1249,19.4],[1257.5,11.1],[1264,4.3],[1270,-2.1],[1275,-9.6],[1280,-15.9],[1283,-17.6],[1286,-18.7],[1289,-18.1],[1292,-16.1],[1296,-13.1],[1300,-11.1]];
const EgSAm5_3000 = [[900,0],[940,0.3],[980,-0.2],[1020,0.3],[1060,0.2],[1084,0],[1085,-10],[1087.7,-17],[1090,-23],[1093,-27],[1095.5,-18],[1098,-5.7],[1100,5],[1102,16.8],[1104,26],[1106,35.9],[1108,44],[1110,51.7],[1112,55],[1114,57.8],[1117,56.5],[1120,55.2],[1122,55],[1126,54.6],[1130.7,54.5],[1135,56],[1138.9,57.3],[1145,58.5],[1151,59.5],[1159,60.3],[1167,60.7],[1173,60.6],[1180,60.1],[1186,59.2],[1192,57.9],[1200,55],[1208.6,51.1],[1217,46],[1225,40.4],[1233,34.5],[1241,28],[1249,20],[1257.5,11.7],[1264,5],[1270,-1.2],[1275,-8.5],[1280,-14.7],[1283,-16],[1286,-17],[1290,-16.5],[1294,-15.8],[1297,-13.5],[1300,-12.5]];
const EgSAp5_3000 = [[900,0],[960,0.3],[1020,-0.2],[1060,0.3],[1083,0],[1084,-8],[1087,-15],[1090,-21],[1092,-24],[1095,-16],[1097.5,-4],[1100,7],[1102,18],[1104,27.5],[1106,37],[1108,45],[1110,52],[1112,55.5],[1114,57.5],[1116,57],[1119,55.5],[1122,54.8],[1126,54.4],[1130.7,54.3],[1135,55.8],[1138.9,57.1],[1145,58.3],[1151,59.3],[1159,60.1],[1167,60.5],[1173,60.4],[1180,59.9],[1186,59],[1192,57.7],[1200,54.8],[1208.6,50.9],[1217,45.8],[1225,40.2],[1233,34.3],[1241,27.8],[1249,19.8],[1257.5,11.5],[1264,4.8],[1270,-1.4],[1275,-8.7],[1280,-14.9],[1283,-16.2],[1286,-17.2],[1290,-17],[1293,-20],[1296,-24],[1298,-26],[1300,-25]];

// ---------- panel membership ----------
const panelData = [
  [STD_1600, EMSSTD_1600, EmSA10_1600, EmSA5_1600, EgSAm5_1600, EgSAp5_1600],
  [STD_1800, EMSSTD_1800, EmSA10_1800, EmSA5_1800, EgSAm5_1800, EgSAp5_1800],
  [STD_2000, EMSSTD_2000, EmSA10_2000, EmSA5_2000, EgSAm5_2000, EgSAp5_2000],
  [STD_2200, EMSSTD_2200, EmSA10_2200, EmSA5_2200, EgSAm5_2200, EgSAp5_2200],
  [STD_2400, EMSSTD_2400, EmSA10_2400, EmSA5_2400, EgSAm5_2400, EgSAp5_2400],
  [STD_2600, EMSSTD_2600, EmSA10_2600, EmSA5_2600, EgSAm5_2600, EgSAp5_2600],
  [STD_2800, EMSSTD_2800, EmSA10_2800, EmSA5_2800, EgSAm5_2800, EgSAp5_2800],
  [STD_3000, EMSSTD_3000, EmSA10_3000, EmSA5_3000, EgSAm5_3000, EgSAp5_3000]
];

// ---------- styling / layout ----------
const FONT = '"Liberation Sans", Arial, Helvetica, sans-serif';
const lineStyles = [
  {color: '#000000', width: 2.8, type: 'solid'},
  {color: '#000000', width: 1.3, type: [4, 3]},
  {color: '#1010ff', width: 1.2, type: [12, 8]},
  {color: '#1010ff', width: 2.0, type: [14, 7]},
  {color: '#ff0000', width: 2.2, type: [18, 6]},
  {color: '#ff0000', width: 1.2, type: [12, 4, 2, 4]}
];
const legendDash = ['solid', [5, 4], [20, 12], [20, 22], [26, 27], [18, 9, 3, 9]];
const drawOrder = [0, 1, 2, 3, 5, 4];
const colLeft = [54, 612];
const rowTop = [8, 395, 782, 1169];
const plotW = 326, plotH = 325;
const boxW = 162, boxH = 120;

// faint background watermark (decoration)
const watermarkShapes = [
  [[45,577],[105,577],[235,720],[364,577],[424,577],[235,786]],
  [[424,577],[482,577],[618,727],[754,577],[812,577],[618,790]]
];

const grids = [], xAxes = [], yAxes = [], series = [], legends = [], graphics = [];
watermarkShapes.forEach(pts => graphics.push({type: 'polygon', shape: {points: pts}, style: {fill: '#efefef'}, z: -10, silent: true}));
panelData.forEach((pd, i) => {
  const L = colLeft[i % 2], T = rowTop[Math.floor(i / 2)];
  grids.push({left: L, top: T, width: plotW, height: plotH, show: true, borderColor: '#8a8a8a', borderWidth: 1, backgroundColor: 'transparent'});
  xAxes.push({
    type: 'value', gridIndex: i, min: xRange[0], max: xRange[1], interval: xRange[2],
    axisLine: {show: true, onZero: false, lineStyle: {color: '#000', width: 1}},
    axisTick: {show: true, length: 7, lineStyle: {color: '#000'}},
    minorTick: {show: true, splitNumber: 2, length: 7, lineStyle: {color: '#000'}},
    splitLine: {show: false},
    axisLabel: {fontSize: 7.5, margin: 16, color: '#222', fontFamily: FONT, formatter: v => String(v)},
    name: xAxisName, nameLocation: 'middle', nameGap: 27,
    nameTextStyle: {fontSize: 12, color: '#000', fontFamily: FONT}
  });
  yAxes.push({
    type: 'value', gridIndex: i, min: yRange[0], max: yRange[1], interval: yRange[2],
    axisLine: {show: true, onZero: false, lineStyle: {color: '#000', width: 1}},
    axisTick: {show: true, length: 5, lineStyle: {color: '#000'}},
    minorTick: {show: true, splitNumber: 2, length: 5, lineStyle: {color: '#000'}},
    splitLine: {show: false},
    axisLabel: {fontSize: 7.5, margin: 16, color: '#222', fontFamily: FONT, formatter: v => String(v)},
    name: yAxisName, nameLocation: 'middle', nameGap: 30,
    nameTextStyle: {fontSize: 12, color: '#000', fontFamily: FONT}
  });
  drawOrder.forEach(k => {
    series.push({
      type: 'line', name: seriesNames[k], xAxisIndex: i, yAxisIndex: i,
      data: pd[k], symbol: 'none', showSymbol: false, smooth: false,
      lineStyle: lineStyles[k], itemStyle: {color: lineStyles[k].color},
      clip: true, animation: false, z: 2 + k, silent: true
    });
  });
  graphics.push({type: 'rect', shape: {x: L, y: T, width: boxW, height: boxH}, style: {fill: '#fff', stroke: '#333', lineWidth: 1}, z: 5});
  graphics.push({type: 'text', x: L + boxW / 2, y: T + 12, style: {text: panelTitles[i], font: '12px ' + FONT, fill: '#000', textAlign: 'center', textVerticalAlign: 'middle'}, z: 6});
  legends.push({
    orient: 'vertical', left: L + 6, top: T + 23, padding: 0,
    itemWidth: 60, itemHeight: 14, itemGap: 4, selectedMode: false,
    textStyle: {fontSize: 12, color: '#000', fontFamily: FONT},
    itemStyle: {opacity: 0},
    data: seriesNames.map((n, k) => ({name: n, itemStyle: {opacity: 0}, lineStyle: {type: legendDash[k], width: lineStyles[k].width, color: lineStyles[k].color}})),
    z: 10
  });
});

const chart = echarts.init(document.getElementById('chart'), null, {renderer: 'canvas'});
chart.setOption({
  backgroundColor: '#ffffff',
  animation: false,
  grid: grids, xAxis: xAxes, yAxis: yAxes, series: series,
  legend: legends,
  graphic: graphics
});
</script>
</body>
</html>
